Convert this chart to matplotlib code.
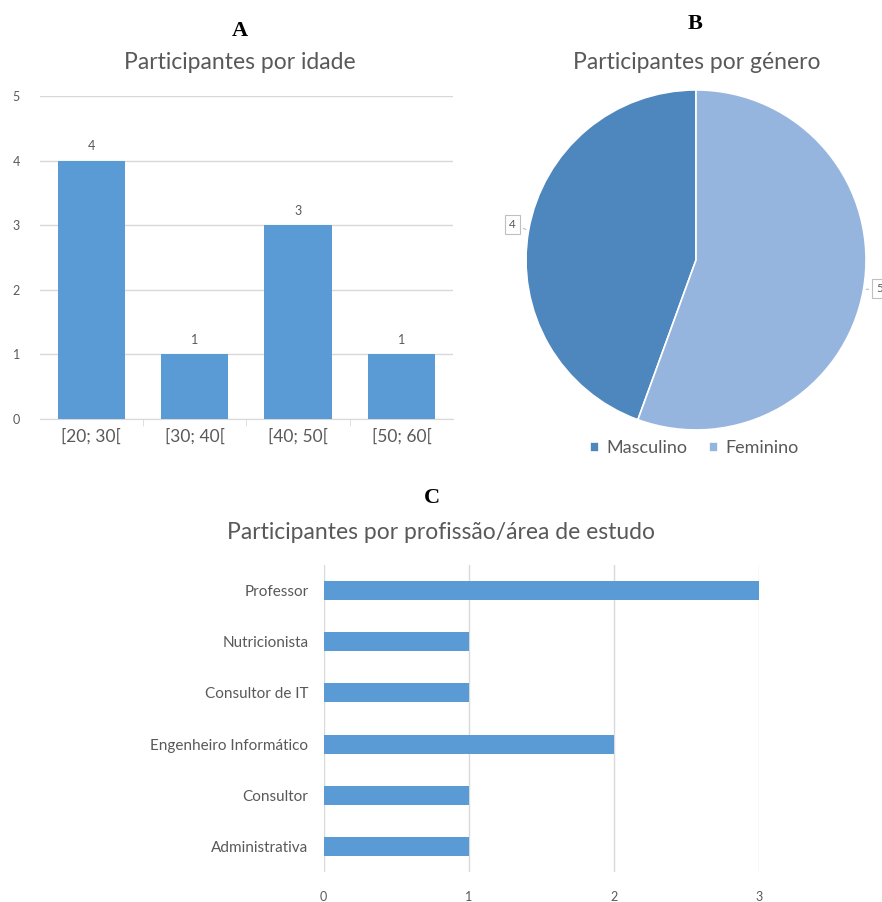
#!/usr/bin/env python3
# -*- coding: utf-8 -*-
# Survey participants: age groups (A), gender (B), profession (C).

import matplotlib
matplotlib.use("Agg")
import matplotlib.pyplot as plt
import numpy as np

# -----------------------------------------------------------------------------
# Data
# -----------------------------------------------------------------------------

age_groups = ["[20; 30[", "[30; 40[", "[40; 50[", "[50; 60["]
age_counts = [4, 1, 3, 1]

gender_labels = ["Masculino", "Feminino"]
gender_counts = [4, 5]

professions = ["Administrativa", "Consultor", "Engenheiro Informático",
               "Consultor de IT", "Nutricionista", "Professor"]
profession_counts = [1, 1, 2, 1, 1, 3]

# -----------------------------------------------------------------------------
# Style
# -----------------------------------------------------------------------------

BAR_BLUE = "#5B9BD5"
PIE_DARK = "#4E86BE"
PIE_LIGHT = "#96B5DE"
TEXT_GREY = "#595959"
GRID_GREY = "#D9D9D9"

plt.rcParams["font.family"] = ["Lato", "DejaVu Sans"]
plt.rcParams["text.color"] = TEXT_GREY
plt.rcParams["xtick.color"] = TEXT_GREY
plt.rcParams["ytick.color"] = TEXT_GREY

fig = plt.figure(figsize=(8.82, 9.02), dpi=100)

LETTER_FONT = dict(family="Liberation Serif", weight="bold", size=16, color="black")
TITLE_SIZE = 16.5

# -----------------------------------------------------------------------------
# A - participants by age
# -----------------------------------------------------------------------------

ax_a = fig.add_axes([0.0448, 0.5355, 0.469, 0.358])
x = np.arange(len(age_groups))
bars = ax_a.bar(x, age_counts, width=0.65, color=BAR_BLUE, zorder=3)
for rect, val in zip(bars, age_counts):
    ax_a.annotate(str(val), (rect.get_x() + rect.get_width() / 2, val),
                  xytext=(0, 6), textcoords="offset points",
                  ha="center", va="bottom", fontsize=9, color=TEXT_GREY)
ax_a.set_xlim(-0.5, len(age_groups) - 0.5)
ax_a.set_ylim(0, 5)
ax_a.set_yticks(range(6))
ax_a.set_xticks(x)
ax_a.set_xticklabels(age_groups, fontsize=12.5)
ax_a.set_xticks(np.arange(0.5, len(age_groups) - 0.5), minor=True)
ax_a.tick_params(axis="x", which="major", length=0, pad=7)
ax_a.tick_params(axis="x", which="minor", length=5, color=GRID_GREY)
ax_a.tick_params(axis="y", length=0, labelsize=9, pad=14)
ax_a.yaxis.grid(True, color=GRID_GREY, linewidth=1, zorder=0)
for side in ["top", "right", "left"]:
    ax_a.spines[side].set_visible(False)
ax_a.spines["bottom"].set_color(GRID_GREY)

fig.text(0.272, 0.966, "A", ha="center", va="center", **LETTER_FONT)
fig.text(0.272, 0.931, "Participantes por idade", ha="center", va="center",
         fontsize=TITLE_SIZE, color=TEXT_GREY)

# -----------------------------------------------------------------------------
# B - participants by gender
# -----------------------------------------------------------------------------

ax_b = fig.add_axes([0.5964, 0.5233, 0.3855, 0.377])
wedges, _ = ax_b.pie(gender_counts, colors=[PIE_DARK, PIE_LIGHT],
                     startangle=90, counterclock=True, radius=1.0,
                     wedgeprops=dict(edgecolor="white", linewidth=1.2))
ax_b.set_aspect("equal")
ax_b.set_xlim(-1, 1)
ax_b.set_ylim(-1, 1)

# value boxes sit just outside each wedge, on its mid-angle
for w, val in zip(wedges, gender_counts):
    mid = np.deg2rad((w.theta1 + w.theta2) / 2)
    edge = (np.cos(mid), np.sin(mid))
    side = 1 if edge[0] > 0 else -1
    ax_b.annotate(str(val), xy=edge,
                  xytext=(1.09 * edge[0] + 0.005 * side, 1.09 * edge[1] + 0.02),
                  ha="center", va="center", fontsize=8.5, color=TEXT_GREY,
                  annotation_clip=False,
                  bbox=dict(boxstyle="square,pad=0.35", fc="white",
                            ec="#BFBFBF", lw=0.8),
                  arrowprops=dict(arrowstyle="-", color="#BFBFBF", lw=0.8))

fig.legend(wedges, gender_labels, loc="center", bbox_to_anchor=(0.787, 0.503),
           ncol=2, frameon=False, fontsize=13, handlelength=0.5,
           handleheight=0.5, handletextpad=0.4, columnspacing=1.2,
           labelcolor=TEXT_GREY)

fig.text(0.788, 0.973, "B", ha="center", va="center", **LETTER_FONT)
fig.text(0.79, 0.931, "Participantes por género", ha="center", va="center",
         fontsize=TITLE_SIZE, color=TEXT_GREY)

# -----------------------------------------------------------------------------
# C - participants by profession / field of study
# -----------------------------------------------------------------------------

ax_c = fig.add_axes([0.367, 0.0333, 0.4932, 0.3403])
y = np.arange(len(professions))
ax_c.barh(y, profession_counts, height=0.37, color=BAR_BLUE, zorder=3)
ax_c.set_xlim(0, 3)
ax_c.set_ylim(-0.5, len(professions) - 0.5)
ax_c.set_yticks(y)
ax_c.set_yticklabels(professions, fontsize=11)
ax_c.set_xticks(range(4))
ax_c.tick_params(axis="both", length=0)
ax_c.tick_params(axis="x", labelsize=9, pad=14)
ax_c.tick_params(axis="y", pad=11)
ax_c.xaxis.grid(True, color=GRID_GREY, linewidth=1, zorder=0)
for side in ax_c.spines:
    ax_c.spines[side].set_visible(False)

fig.text(0.49, 0.448, "C", ha="center", va="center", **LETTER_FONT)
fig.text(0.5, 0.41, "Participantes por profissão/área de estudo",
         ha="center", va="center", fontsize=TITLE_SIZE, color=TEXT_GREY)

fig.savefig("out.png", dpi=100, facecolor="white")
